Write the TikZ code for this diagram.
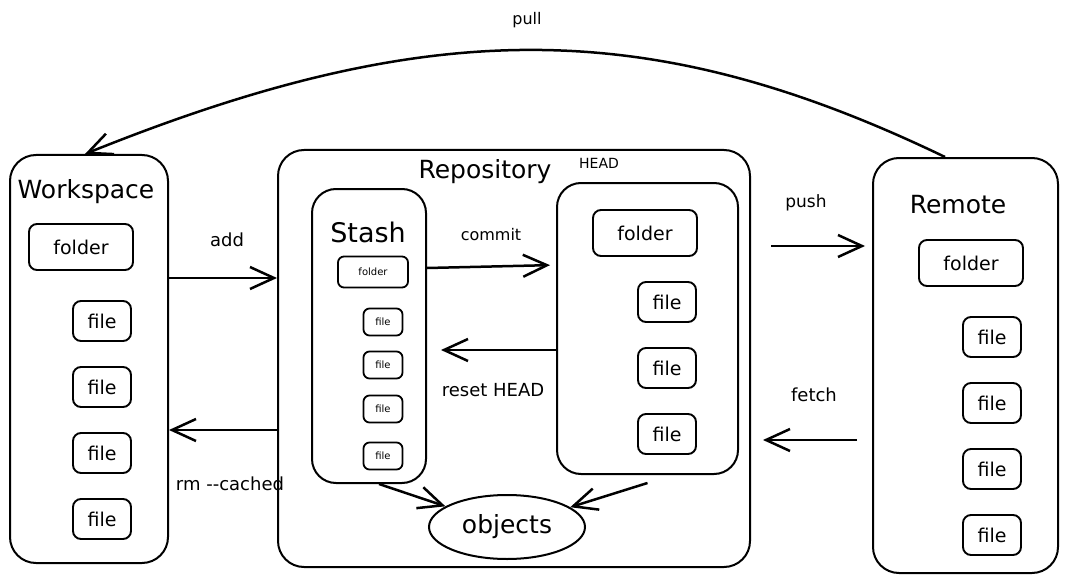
\documentclass[tikz,border=0pt]{standalone}
\usepackage{fontspec}
\setmainfont{DejaVu Sans}
\usetikzlibrary{arrows.meta,shapes.geometric}

\tikzset{
  container/.style={draw, line width=2pt, rounded corners=26pt, inner sep=0pt},
  folderbox/.style={draw, line width=1.9pt, rounded corners=8pt, minimum width=104pt, minimum height=46pt, font=\fontsize{19}{19}\selectfont},
  filebox/.style={draw, line width=1.9pt, rounded corners=8pt, minimum width=58pt, minimum height=40pt, font=\fontsize{19}{19}\selectfont},
  smallfolder/.style={draw, line width=1.8pt, rounded corners=6pt, minimum width=70pt, minimum height=31pt, font=\fontsize{10}{10}\selectfont},
  smallfile/.style={draw, line width=1.8pt, rounded corners=6pt, minimum width=39pt, minimum height=27pt, font=\fontsize{10}{10}\selectfont},
  boxtitle/.style={font=\fontsize{25}{25}\selectfont},
  verb/.style={font=\fontsize{18}{18}\selectfont},
  flow/.style={line width=2.5pt, -{Straight Barb[length=24pt, width=22pt]}},
}

\begin{document}
\begin{tikzpicture}[x=1pt, y=-1pt]
	\useasboundingbox (0,0) rectangle (1068,583);
	
	% workspace
	\node[container, minimum width=158pt, minimum height=408pt] (workspace) at (89,359) {};
	\node[boxtitle] (wstitle) at (86,192) {Workspace};
	\node[folderbox] (wsfolder) at (81,247) {folder};
	\foreach \y [count=\i] in {321,387,453,519}
		\node[filebox] (wsfile\i) at (102,\y) {file};
	
	% repository
	\node[container, minimum width=472pt, minimum height=417pt] (repo) at (514,358.5) {};
	\node[boxtitle] (repotitle) at (485,172) {Repository};
	\node[font=\fontsize{14}{14}\selectfont] (headtitle) at (599,163) {HEAD};
	
	% stash
	\node[container, rounded corners=24pt, minimum width=114pt, minimum height=294pt] (stash) at (369,336) {};
	\node[font=\fontsize{27}{27}\selectfont] (stashtitle) at (368,232) {Stash};
	\node[smallfolder] (stfolder) at (373,272) {folder};
	\foreach \y [count=\i] in {322,365,409,456}
		\node[smallfile] (stfile\i) at (383,\y) {file};
	
	% head
	\node[container, rounded corners=24pt, minimum width=181pt, minimum height=291pt] (head) at (647.5,328.5) {};
	\node[folderbox] (hdfolder) at (645,233) {folder};
	\foreach \y [count=\i] in {302,368,434}
		\node[filebox] (hdfile\i) at (667,\y) {file};
	
	% objects
	\node[draw, ellipse, line width=2pt, minimum width=156pt, minimum height=64pt, font=\fontsize{25}{25}\selectfont] (objects) at (507,527) {objects};
	
	% remote
	\node[container, minimum width=185pt, minimum height=415pt] (remote) at (965.5,365.5) {};
	\node[boxtitle] (rmtitle) at (958,205) {Remote};
	\node[folderbox] (rmfolder) at (971,263) {folder};
	\foreach \y [count=\i] in {337,403,469,535}
		\node[filebox] (rmfile\i) at (992,\y) {file};
	
	% arrows
	\draw[flow] ([yshift=81pt]workspace.east) -- ([yshift=80.5pt]repo.west);
	\draw[flow] ([yshift=-71.5pt]repo.west) -- ([yshift=-71pt]workspace.east);
	\draw[flow, shorten >=6pt] ([yshift=68pt]stash.east) -- ([yshift=63.5pt]head.west);
	\draw[flow, shorten >=14pt] ([yshift=-21.5pt]head.west) -- ([yshift=-14pt]stash.east);
	\draw[flow, shorten <=20pt, shorten >=7pt] ([yshift=112.5pt]repo.east) -- ([yshift=119.5pt]remote.west);
	\draw[flow, shorten <=15pt, shorten >=12pt] ([yshift=-74.5pt]remote.west) -- ([yshift=-81.5pt]repo.east);
	\draw[flow] ([xshift=10pt]stash.south) -- (objects);
	\draw[flow] ([yshift=-8pt]head.south) -- (objects);
	\draw[flow] ([xshift=-20.5pt]remote.north) .. controls (650,15) and (430,15) .. ([xshift=-4pt]workspace.north);
	
	% labels
	\node[verb] (lbladd) at (227,240) {add};
	\node[verb] (lblrm) at (230,484) {rm -{}-cached};
	\node[verb, font=\fontsize{16}{16}\selectfont] (lblcommit) at (491,235) {commit};
	\node[verb] (lblreset) at (493,390) {reset HEAD};
	\node[verb, font=\fontsize{17}{17}\selectfont] (lblpush) at (806,203) {push};
	\node[verb] (lblfetch) at (814,395) {fetch};
	\node[verb, font=\fontsize{16}{16}\selectfont] (lblpull) at (527,20) {pull};
\end{tikzpicture}
\end{document}
